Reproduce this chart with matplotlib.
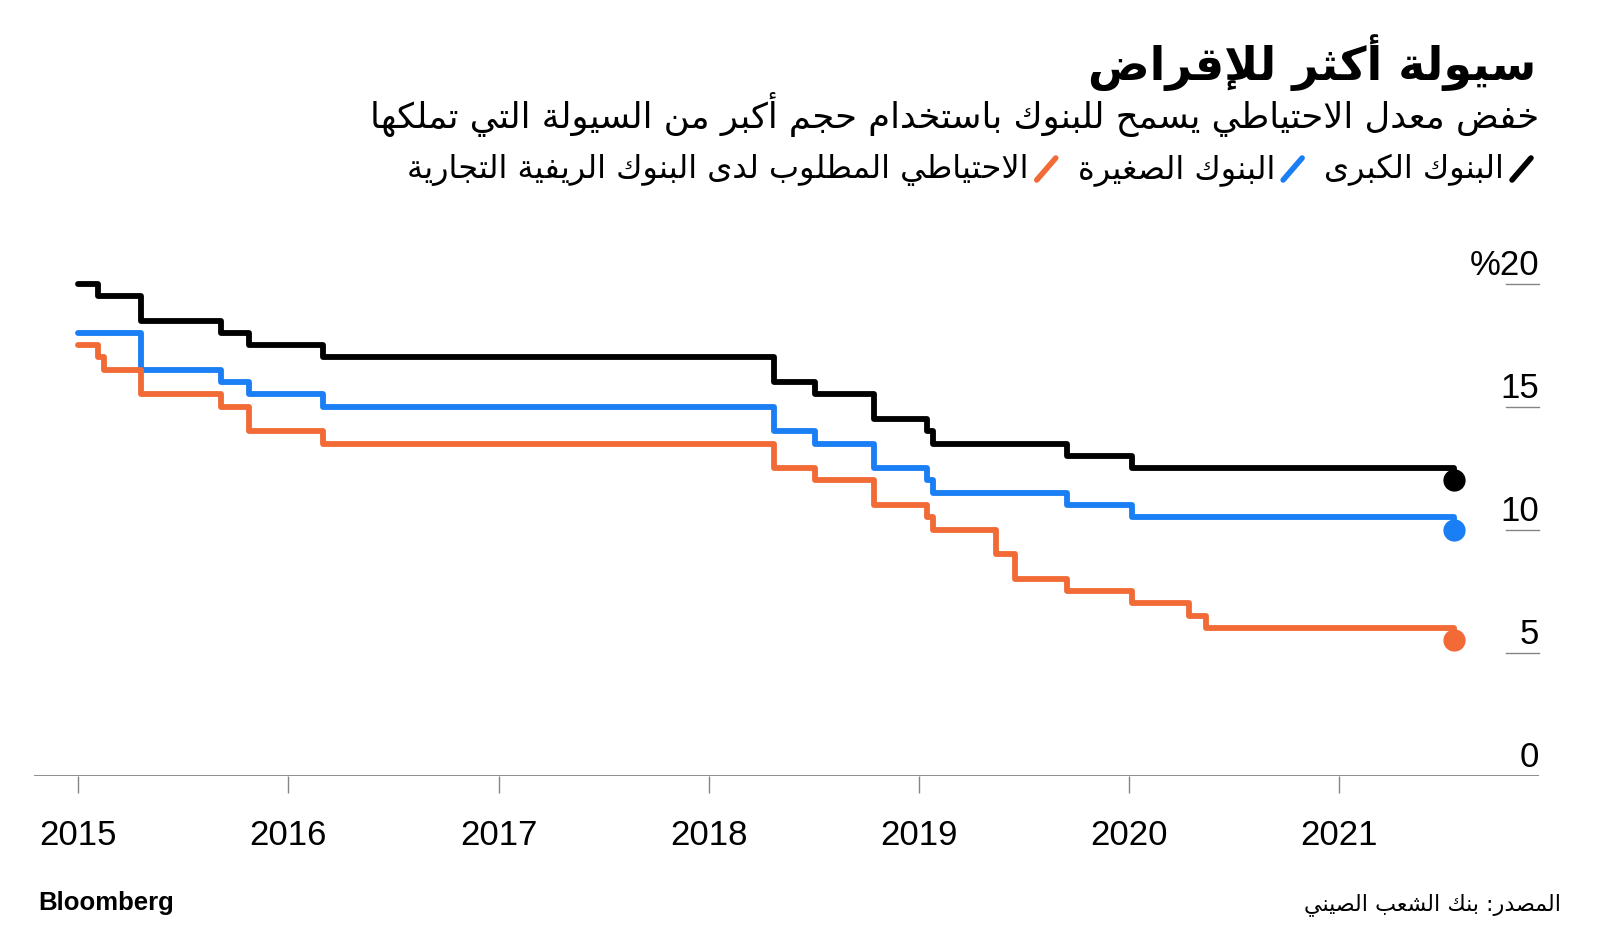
import datetime as dt
import matplotlib
matplotlib.use('Agg')
import matplotlib.pyplot as plt
import matplotlib.dates as mdates
from matplotlib.lines import Line2D

# reserve requirement ratios (step changes)
big_dates = ['2015-01-01', '2015-02-05', '2015-04-20', '2015-09-06', '2015-10-24',
             '2016-03-01', '2018-04-25', '2018-07-05', '2018-10-15', '2019-01-15',
             '2019-01-25', '2019-09-16', '2020-01-06', '2021-07-20']
big_rrr = [20, 19.5, 18.5, 18, 17.5, 17, 16, 15.5, 14.5, 14, 13.5, 13, 12.5, 12]

small_dates = ['2015-01-01', '2015-04-20', '2015-09-06', '2015-10-24', '2016-03-01',
               '2018-04-25', '2018-07-05', '2018-10-15', '2019-01-15', '2019-01-25',
               '2019-09-16', '2020-01-06', '2021-07-20']
small_rrr = [18, 16.5, 16, 15.5, 15, 14, 13.5, 12.5, 12, 11.5, 11, 10.5, 10]

rural_dates = ['2015-01-01', '2015-02-05', '2015-02-14', '2015-04-20', '2015-09-06',
               '2015-10-24', '2016-03-01', '2018-04-25', '2018-07-05', '2018-10-15',
               '2019-01-15', '2019-01-25', '2019-05-15', '2019-06-17', '2019-09-16',
               '2020-01-06', '2020-04-15', '2020-05-15', '2021-07-20']
rural_rrr = [17.5, 17, 16.5, 15.5, 15, 14, 13.5, 12.5, 12, 11, 10.5, 10, 9, 8, 7.5,
             7, 6.5, 6, 5.5]

years = [2015, 2016, 2017, 2018, 2019, 2020, 2021]
y_ticks = [0, 5, 10, 15, 20]
y_labels = ['0', '5', '10', '15', '%20']

title = 'سيولة أكثر للإقراض'
subtitle = 'خفض معدل الاحتياطي يسمح للبنوك باستخدام حجم أكبر من السيولة التي تملكها'
names = ['البنوك الكبرى', 'البنوك الصغيرة',
         'الاحتياطي المطلوب لدى البنوك الريفية التجارية']
colors = ['#000000', '#1a7ef5', '#f26a36']
source = 'المصدر: بنك الشعب الصيني'

# --- minimal arabic shaping (matplotlib has no complex text layout) ---
# isolated, final[, initial, medial]
FORMS = {
    0x0621: (0xFE80,), 0x0622: (0xFE81, 0xFE82), 0x0623: (0xFE83, 0xFE84),
    0x0624: (0xFE85, 0xFE86), 0x0625: (0xFE87, 0xFE88),
    0x0626: (0xFE89, 0xFE8A, 0xFE8B, 0xFE8C), 0x0627: (0xFE8D, 0xFE8E),
    0x0628: (0xFE8F, 0xFE90, 0xFE91, 0xFE92), 0x0629: (0xFE93, 0xFE94),
    0x062A: (0xFE95, 0xFE96, 0xFE97, 0xFE98), 0x062B: (0xFE99, 0xFE9A, 0xFE9B, 0xFE9C),
    0x062C: (0xFE9D, 0xFE9E, 0xFE9F, 0xFEA0), 0x062D: (0xFEA1, 0xFEA2, 0xFEA3, 0xFEA4),
    0x062E: (0xFEA5, 0xFEA6, 0xFEA7, 0xFEA8), 0x062F: (0xFEA9, 0xFEAA),
    0x0630: (0xFEAB, 0xFEAC), 0x0631: (0xFEAD, 0xFEAE), 0x0632: (0xFEAF, 0xFEB0),
    0x0633: (0xFEB1, 0xFEB2, 0xFEB3, 0xFEB4), 0x0634: (0xFEB5, 0xFEB6, 0xFEB7, 0xFEB8),
    0x0635: (0xFEB9, 0xFEBA, 0xFEBB, 0xFEBC), 0x0636: (0xFEBD, 0xFEBE, 0xFEBF, 0xFEC0),
    0x0637: (0xFEC1, 0xFEC2, 0xFEC3, 0xFEC4), 0x0638: (0xFEC5, 0xFEC6, 0xFEC7, 0xFEC8),
    0x0639: (0xFEC9, 0xFECA, 0xFECB, 0xFECC), 0x063A: (0xFECD, 0xFECE, 0xFECF, 0xFED0),
    0x0641: (0xFED1, 0xFED2, 0xFED3, 0xFED4), 0x0642: (0xFED5, 0xFED6, 0xFED7, 0xFED8),
    0x0643: (0xFED9, 0xFEDA, 0xFEDB, 0xFEDC), 0x0644: (0xFEDD, 0xFEDE, 0xFEDF, 0xFEE0),
    0x0645: (0xFEE1, 0xFEE2, 0xFEE3, 0xFEE4), 0x0646: (0xFEE5, 0xFEE6, 0xFEE7, 0xFEE8),
    0x0647: (0xFEE9, 0xFEEA, 0xFEEB, 0xFEEC), 0x0648: (0xFEED, 0xFEEE),
    0x0649: (0xFEEF, 0xFEF0), 0x064A: (0xFEF1, 0xFEF2, 0xFEF3, 0xFEF4),
}
LAMALEF = {0x0622: (0xFEF5, 0xFEF6), 0x0623: (0xFEF7, 0xFEF8),
           0x0625: (0xFEF9, 0xFEFA), 0x0627: (0xFEFB, 0xFEFC)}


def joins(c):
    return c is not None and len(FORMS.get(ord(c), ())) > 1


def dual(c):
    return c is not None and len(FORMS.get(ord(c), ())) == 4


def ar(text):
    out = []
    i = 0
    n = len(text)
    while i < n:
        c = text[i]
        if ord(c) not in FORMS:
            out.append(c)
            i += 1
            continue
        prev = text[i - 1] if i > 0 else None
        after_join = dual(prev)
        nxt = text[i + 1] if i + 1 < n else None
        if ord(c) == 0x0644 and nxt is not None and ord(nxt) in LAMALEF:
            iso, fin = LAMALEF[ord(nxt)]
            out.append(chr(fin if after_join else iso))
            i += 2
            continue
        f = FORMS[ord(c)]
        before_join = dual(c) and joins(nxt)
        if after_join and before_join:
            g = f[3]
        elif after_join:
            g = f[1]
        elif before_join:
            g = f[2]
        else:
            g = f[0]
        out.append(chr(g))
        i += 1
    return ''.join(reversed(out))


AR = ['DejaVu Sans']
NUM = ['Liberation Sans', 'DejaVu Sans']
GREY = '#858585'

W, H = 1600, 934
fig = plt.figure(figsize=(W / 100, H / 100), dpi=100)


def fx(px):
    return px / W


def fy(py):
    return 1 - py / H


ax = fig.add_axes([fx(34), fy(775.5), fx(1539) - fx(34), fy(283.7) - fy(775.5)])

series = [(big_dates, big_rrr), (small_dates, small_rrr), (rural_dates, rural_rrr)]
for (d, v), c in zip(series, colors):
    d = [dt.date.fromisoformat(s) for s in d]
    ax.plot(d, v, drawstyle='steps-post', color=c, lw=4.2,
            solid_capstyle='round', solid_joinstyle='round', clip_on=False, zorder=3)
    ax.plot(d[-1], v[-1], 'o', ms=15, color=c, clip_on=False, zorder=4)

ax.set_xlim(dt.date(2014, 10, 16), dt.date(2021, 12, 14))
ax.set_ylim(0, 20)
for s in ax.spines.values():
    s.set_visible(False)
ax.axhline(0, color=GREY, lw=1.3, zorder=1)

ax.set_xticks([dt.date(y, 1, 1) for y in years])
ax.xaxis.set_major_formatter(mdates.DateFormatter('%Y'))
ax.tick_params(axis='x', length=12, width=1, color=GREY, pad=19,
               labelsize=25)
for lab in ax.get_xticklabels():
    lab.set_family(NUM)
ax.set_yticks([])

ytr = ax.get_yaxis_transform()
for v, lab in zip(y_ticks, y_labels):
    if v > 0:
        ax.plot([0.978, 1.0], [v, v], transform=ytr, color=GREY, lw=1, clip_on=False)
    ax.annotate(lab, (1.0, v), xycoords=ytr, xytext=(0, 6), textcoords='offset points',
                ha='right', va='baseline', fontsize=25, family=NUM)

# header
fig.text(fx(1536), fy(80), ar(title), ha='right', va='baseline',
         fontsize=33, fontweight='bold', family=AR)
fig.text(fx(1539), fy(128), ar(subtitle), ha='right', va='baseline',
         fontsize=25.5, family=AR)

# legend, laid out right to left
fig.canvas.draw()
rend = fig.canvas.get_renderer()
x = 1531
ly = 169
for name, c in zip(names, colors):
    fig.add_artist(Line2D([fx(x - 19), fx(x)], [fy(ly + 11), fy(ly - 11)],
                          transform=fig.transFigure, color=c, lw=4,
                          solid_capstyle='round'))
    t = fig.text(fx(x - 27), fy(ly + 9), ar(name), ha='right', va='baseline',
                 fontsize=23, family=AR)
    x = x - 27 - t.get_window_extent(rend).width - 22

fig.text(fx(38), fy(910), 'Bloomberg', ha='left', va='baseline',
         fontsize=18.5, fontweight='bold', family=NUM)
fig.text(fx(1561), fy(910), ar(source), ha='right', va='baseline',
         fontsize=16, family=AR)

fig.savefig('out.png', dpi=100, facecolor='white')
